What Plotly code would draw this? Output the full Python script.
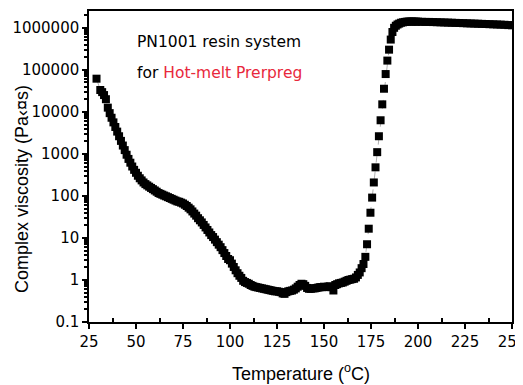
import plotly.graph_objects as go

# Temperature (°C) and complex viscosity (Pa·s)
temperature = [29, 31, 32, 33, 34, 35, 36, 37, 38, 39, 40, 41, 42, 43, 44, 45, 46, 47, 48, 49,
               50, 51, 52, 53, 54, 55, 56, 57, 58, 59, 60, 61, 62, 63, 64, 65, 66, 67, 68, 69,
               70, 71, 72, 73, 74, 75, 76, 77, 78, 79, 80, 81, 82, 83, 84, 85, 86, 87, 88, 89,
               90, 91, 92, 93, 94, 95, 96, 97, 98, 99, 100, 101, 102, 103, 104, 105, 106, 107, 108, 109,
               110, 111, 112, 113, 114, 115, 116, 117, 118, 119, 120, 121, 122, 123, 124, 125, 126, 127, 128, 129,
               130, 131, 132, 133, 134, 135, 136, 137, 138, 139, 140, 141, 142, 143, 144, 145, 146, 147, 148, 149,
               150, 151, 152, 153, 154, 155, 156, 157, 158, 159, 160, 161, 162, 163, 164, 165, 166, 167, 168, 169,
               170, 171,
               172.0, 172.9, 173.8, 174.7, 175.6, 176.5, 177.4, 178.3, 179.2, 180.1, 181.0, 181.9, 182.8, 183.7,
               184.6, 185.5, 186.4, 187.3, 188.2, 189.1, 190, 191, 192, 193, 194, 195, 196, 197, 198, 199,
               200, 202, 204, 206, 208, 210, 212, 214, 216, 218, 220, 222, 224, 226, 228, 230, 232, 234, 236, 238,
               240, 242, 244, 246, 248, 250]
viscosity = [61600, 33100, 29500, 25100, 20000, 12600, 9330, 7240, 5620, 4370, 3390, 2630, 2040, 1580, 1230, 955, 759, 617, 501, 417,
             355, 302, 263, 234, 209, 191, 178, 166, 155, 145, 135, 126, 117, 112, 107, 102, 97.7, 93.3, 89.1, 85.1,
             81.3, 77.6, 74.1, 72.4, 69.2, 66.1, 61.7, 57.5, 52.5, 47.9, 42.7, 38.0, 33.9, 29.5, 26.3, 23.4, 20.4, 17.8, 15.5, 13.5,
             11.7, 10.5, 9.12, 7.94, 6.92, 6.03, 5.13, 4.37, 3.72, 3.16, 2.95, 2.45, 2.04, 1.70, 1.45, 1.26, 1.12, 0.955, 0.891, 0.851,
             0.813, 0.759, 0.724, 0.692, 0.676, 0.661, 0.646, 0.631, 0.617, 0.603, 0.589, 0.575, 0.562, 0.550, 0.537, 0.537, 0.525, 0.513, 0.479, 0.468,
             0.513, 0.537, 0.550, 0.562, 0.589, 0.631, 0.692, 0.759, 0.813, 0.794, 0.724, 0.646, 0.617, 0.617, 0.631, 0.631, 0.646, 0.661, 0.676, 0.676,
             0.692, 0.676, 0.692, 0.708, 0.676, 0.562, 0.759, 0.794, 0.832, 0.851, 0.871, 0.912, 0.955, 1.00, 1.02, 1.05, 1.07, 1.15, 1.32, 1.51,
             1.91, 2.40,
             3.55, 7.08, 16.6, 39.8, 91.2, 209, 479, 1100, 2630, 6310, 15100, 35500, 79400, 166000,
             302000, 525000, 794000, 1000000, 1120000, 1200000, 1260000, 1320000, 1350000, 1380000, 1400000, 1410000, 1410000, 1410000, 1410000, 1400000,
             1400000, 1390000, 1380000, 1380000, 1370000, 1360000, 1350000, 1340000, 1330000, 1320000, 1310000, 1300000, 1290000, 1280000, 1270000, 1260000, 1250000, 1240000, 1230000, 1220000,
             1210000, 1200000, 1190000, 1180000, 1160000, 1150000]

x_ticks = [25, 50, 75, 100, 125, 150, 175, 200, 225, 250]
y_ticks = [0.1, 1, 10, 100, 1000, 10000, 100000, 1000000]
y_tick_labels = ["0.1", "1", "10", "100", "1000", "10000", "100000", "1000000"]

TICK_FONT = "DejaVu Sans, Arial, sans-serif"
TITLE_FONT = "Liberation Sans, Arial, sans-serif"

fig = go.Figure()
fig.add_trace(go.Scatter(
    x=temperature, y=viscosity, mode="lines+markers",
    line=dict(color="#b0b0b0", width=1, dash="dash"),
    marker=dict(symbol="square", size=8, color="black", line=dict(width=0)),
    showlegend=False,
))

minor_y = [m * 10 ** e for e in range(-1, 7) for m in range(2, 10)]

# the page adds an 8px body margin, so the figure is 8px smaller than the window
fig.update_layout(
    width=515, height=377,
    margin=dict(l=81, r=11, t=3, b=63),
    paper_bgcolor="white", plot_bgcolor="white",
    font=dict(family=TICK_FONT, size=15, color="black"),
    xaxis=dict(
        range=[25, 250], tickmode="array", tickvals=x_ticks,
        ticks="outside", ticklen=5, tickwidth=1.5, tickcolor="black",
        showline=True, linecolor="black", linewidth=1.5, mirror=True,
        showgrid=False, zeroline=False, automargin=False,
        ticklabeloverflow="allow",
        minor=dict(tickmode="linear", tick0=37.5, dtick=25, ticks="inside", ticklen=4, tickcolor="black", showgrid=False),
        tickfont=dict(size=15),
    ),
    yaxis=dict(
        type="log", range=[-1, 6.4], tickmode="array", tickvals=y_ticks, ticktext=y_tick_labels,
        ticks="outside", ticklen=5, tickwidth=1.5, tickcolor="black",
        showline=True, linecolor="black", linewidth=1.5, mirror=True,
        showgrid=False, zeroline=False, automargin=False,
        ticklabeloverflow="allow",
        minor=dict(tickmode="array", tickvals=minor_y, ticks="outside", ticklen=3, tickcolor="black", showgrid=False),
        tickfont=dict(size=15),
    ),
    annotations=[
        dict(text="Temperature (<sup>o</sup>C)", xref="paper", yref="paper", x=0.5, y=-0.161,
             xanchor="center", yanchor="middle", showarrow=False,
             font=dict(family=TITLE_FONT, size=18, color="black")),
        dict(text="Complex viscosity (Pa‹¤s)", xref="paper", yref="paper", x=-0.158, y=0.428,
             xanchor="center", yanchor="middle", textangle=-90, showarrow=False,
             font=dict(family=TITLE_FONT, size=18, color="black")),
        dict(text="PN1001 resin system", xref="paper", yref="paper", x=0.109, y=0.90,
             xanchor="left", yanchor="middle", showarrow=False,
             font=dict(family=TICK_FONT, size=15.5, color="black")),
        dict(text="for <span style='color:#e8283c'>Hot-melt Prerpreg</span>", xref="paper", yref="paper",
             x=0.109, y=0.80, xanchor="left", yanchor="middle", showarrow=False,
             font=dict(family=TICK_FONT, size=15.5, color="black")),
    ],
)

fig.write_html("out.html")
